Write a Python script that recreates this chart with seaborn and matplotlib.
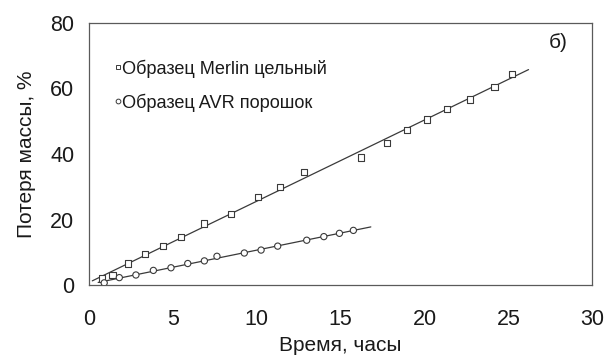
import numpy as np
import pandas as pd
import matplotlib
matplotlib.use("Agg")
import matplotlib.pyplot as plt
import seaborn as sns
from matplotlib.lines import Line2D

# Mass loss over time for the two samples
merlin_hours = [0.79, 1.41, 2.35, 3.36, 4.43, 5.47, 6.88, 8.45, 10.08, 11.39,
                12.82, 16.22, 17.75, 18.94, 20.14, 21.33, 22.72, 24.17, 25.20]
merlin_loss = [2.0, 3.0, 6.6, 9.4, 12.0, 14.7, 18.8, 21.6, 26.9, 30.0,
               34.5, 38.9, 43.4, 47.3, 50.5, 53.8, 56.6, 60.5, 64.5]

avr_hours = [0.91, 1.81, 2.80, 3.84, 4.89, 5.89, 6.88, 7.63, 9.26, 10.26,
             11.25, 12.98, 14.00, 14.93, 15.76]
avr_loss = [0.7, 2.3, 3.1, 4.5, 5.3, 6.6, 7.4, 8.8, 9.8, 10.7,
            11.9, 13.7, 14.8, 15.8, 16.7]

merlin_label = "Образец Merlin цельный"
avr_label = "Образец AVR порошок"

# Time span covered by each linear trend line
merlin_trend_span = [0.2, 26.2]
avr_trend_span = [0.55, 16.8]

x_ticks = [0, 5, 10, 15, 20, 25, 30]
y_ticks = [0, 20, 40, 60, 80]

sns.set_theme(style="white")
plt.rcParams["font.family"] = ["Liberation Sans", "DejaVu Sans"]

ink = "#3a3a3a"
spine_c = "#5a5a5a"
text_c = "#1a1a1a"

fig = plt.figure(figsize=(6.05, 3.56), dpi=100)
ax = fig.add_axes([0.147, 0.199, 0.832, 0.737])

df = pd.concat([
    pd.DataFrame({"t": merlin_hours, "m": merlin_loss, "s": merlin_label}),
    pd.DataFrame({"t": avr_hours, "m": avr_loss, "s": avr_label}),
])


def trend(xs, ys, span):
    k, b = np.polyfit(xs, ys, 1)
    xx = np.array(span)
    return pd.DataFrame({"t": xx, "m": k * xx + b})


for xs, ys, span in [(merlin_hours, merlin_loss, merlin_trend_span),
                     (avr_hours, avr_loss, avr_trend_span)]:
    sns.lineplot(data=trend(xs, ys, span), x="t", y="m", ax=ax,
                 color=ink, lw=0.9, legend=False)

sns.scatterplot(data=df, x="t", y="m", style="s", ax=ax,
                markers={merlin_label: "s", avr_label: "o"},
                s=20, facecolor="white", edgecolor=ink, linewidth=0.8,
                legend=False, zorder=3)

# Legend handles with tiny markers
handles = [
    Line2D([], [], ls="none", marker="s", ms=3.2, mfc="white", mec=ink, mew=0.7),
    Line2D([], [], ls="none", marker="o", ms=3.4, mfc="white", mec=ink, mew=0.7),
]
ax.legend(handles, [merlin_label, avr_label], loc="upper left",
          bbox_to_anchor=(0.050, 0.86), frameon=False, fontsize=13.1,
          handlelength=0.4, handletextpad=0.05, labelspacing=0.85,
          borderaxespad=0, borderpad=0, labelcolor=text_c)

ax.text(0.932, 0.926, "б)", transform=ax.transAxes, ha="center", va="center",
        fontsize=15, color=text_c)

ax.set_xlim(0, 30)
ax.set_ylim(0, 80)
ax.set_xticks(x_ticks)
ax.set_yticks(y_ticks)
ax.set_xlabel("Время, часы", fontsize=15, color=text_c, labelpad=4)
ax.set_ylabel("Потеря массы, %", fontsize=15, color=text_c, labelpad=10)
ax.tick_params(axis="both", direction="inout", length=9, width=0.9,
               color=spine_c, labelsize=15.5, labelcolor=text_c, pad=6)
ax.tick_params(axis="x", pad=13)
for sp in ax.spines.values():
    sp.set_visible(True)
    sp.set_color(spine_c)
    sp.set_linewidth(0.9)

fig.savefig("out.png", dpi=100)
